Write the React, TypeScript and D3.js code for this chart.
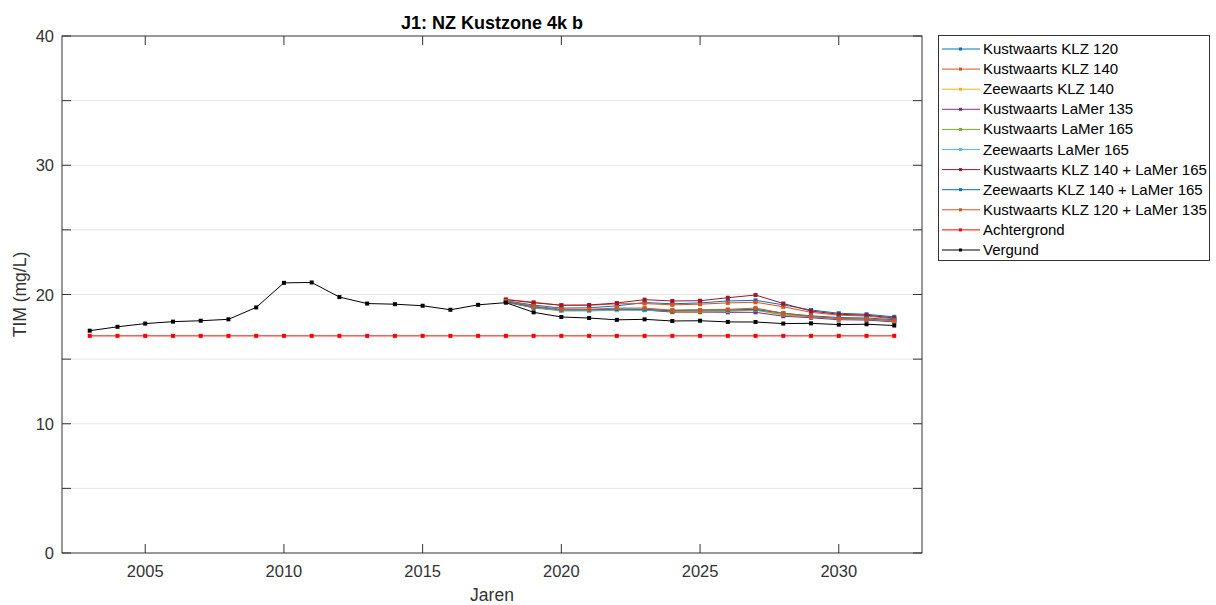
import React, { useEffect, useRef } from 'react';
import { select, scaleLinear, line, range } from 'd3';

const years = range(2003, 2033);
const scenarioYears = range(2018, 2033);

const vergund = [17.2, 17.5, 17.75, 17.9, 17.97, 18.08, 19.0, 20.9, 20.93, 19.8, 19.3, 19.25, 19.13, 18.82, 19.2,
  19.37, 18.62, 18.26, 18.18, 18.04, 18.08, 17.95, 17.97, 17.88, 17.87, 17.75, 17.77, 17.67, 17.7, 17.6];
const achtergrond = years.map(() => 16.8);

const kustKlz120 = [19.52, 19.18, 18.95, 18.97, 19.12, 19.38, 19.28, 19.35, 19.5, 19.55, 19.2, 18.8, 18.55, 18.47, 18.27];
const kustKlz140 = [19.62, 19.4, 19.17, 19.16, 19.28, 19.3, 19.2, 19.25, 19.35, 19.4, 19.05, 18.62, 18.4, 18.33, 18.12];
const zeeKlz140 = [19.42, 18.95, 18.72, 18.72, 18.78, 18.82, 18.62, 18.62, 18.7, 18.78, 18.4, 18.25, 18.1, 18.05, 17.92];
const kustLaMer135 = [19.4, 18.98, 18.78, 18.78, 18.82, 18.8, 18.65, 18.65, 18.62, 18.62, 18.32, 18.2, 18.05, 18.02, 17.88];
const kustLaMer165 = [19.43, 19.0, 18.78, 18.8, 18.85, 18.85, 18.7, 18.72, 18.72, 18.8, 18.45, 18.28, 18.12, 18.08, 17.95];
const zeeLaMer165 = [19.45, 19.02, 18.75, 18.75, 18.8, 18.78, 18.8, 18.8, 18.78, 18.85, 18.55, 18.3, 18.15, 18.1, 17.98];
const kustKlz140LaMer165 = [19.6, 19.36, 19.17, 19.19, 19.34, 19.6, 19.5, 19.52, 19.75, 19.96, 19.3, 18.72, 18.47, 18.4, 18.18];
const zeeKlz140LaMer165 = [19.45, 19.05, 18.82, 18.82, 18.88, 18.85, 18.75, 18.8, 18.8, 18.85, 18.55, 18.35, 18.22, 18.18, 18.05];
const kustKlz120LaMer135 = [19.5, 19.1, 18.85, 18.85, 18.95, 18.95, 18.78, 18.8, 18.85, 18.95, 18.55, 18.3, 18.15, 18.1, 17.98];

const seriesNames = [
  'Kustwaarts KLZ 120', 'Kustwaarts KLZ 140', 'Zeewaarts KLZ 140', 'Kustwaarts LaMer 135',
  'Kustwaarts LaMer 165', 'Zeewaarts LaMer 165', 'Kustwaarts KLZ 140 + LaMer 165',
  'Zeewaarts KLZ 140 + LaMer 165', 'Kustwaarts KLZ 120 + LaMer 135', 'Achtergrond', 'Vergund',
];
const seriesValues = [
  kustKlz120, kustKlz140, zeeKlz140, kustLaMer135, kustLaMer165, zeeLaMer165,
  kustKlz140LaMer165, zeeKlz140LaMer165, kustKlz120LaMer135, achtergrond, vergund,
];
const seriesYears = [
  scenarioYears, scenarioYears, scenarioYears, scenarioYears, scenarioYears, scenarioYears,
  scenarioYears, scenarioYears, scenarioYears, years, years,
];
const colors = ['#0072BD', '#D95319', '#EDB120', '#7E2F8E', '#77AC30', '#4DBEEE', '#A2142F', '#0072BD', '#D95319', '#FF0000', '#000000'];

const xTicks = [2005, 2010, 2015, 2020, 2025, 2030];
const yTicks = [0, 5, 10, 15, 20, 25, 30, 35, 40];
const yLabels = [0, 10, 20, 30, 40];

const W = 1216;
const H = 605;
const left = 62, right = 922, top = 36, bottom = 553;
const font = 'Arial, "Liberation Sans", Helvetica, sans-serif';
const axisColor = '#333333';

const App: React.FC = () => {
  const svgRef = useRef<SVGSVGElement | null>(null);

  useEffect(() => {
    const svg = select(svgRef.current);
    svg.selectAll('*').remove();

    const x = scaleLinear().domain([2002, 2033]).range([left, right]);
    const y = scaleLinear().domain([0, 40]).range([bottom, top]);

    svg.append('rect').attr('width', W).attr('height', H).attr('fill', '#fff');

    // grid
    svg.append('g')
      .selectAll('line')
      .data(yTicks.filter(t => t > 0 && t < 40))
      .enter()
      .append('line')
      .attr('x1', left).attr('x2', right)
      .attr('y1', d => y(d)).attr('y2', d => y(d))
      .attr('stroke', '#e6e6e6')
      .attr('stroke-width', 1);

    // series
    const lines = svg.append('g');
    seriesValues.forEach((vals, i) => {
      const pts = vals.map((v, j) => [seriesYears[i][j], v] as [number, number]);
      const gen = line<[number, number]>().x(d => x(d[0])).y(d => y(d[1]));
      lines.append('path')
        .attr('d', gen(pts))
        .attr('fill', 'none')
        .attr('stroke', colors[i])
        .attr('stroke-width', 1);
      lines.append('g')
        .selectAll('rect')
        .data(pts)
        .enter()
        .append('rect')
        .attr('x', d => x(d[0]) - 2)
        .attr('y', d => y(d[1]) - 2)
        .attr('width', 4)
        .attr('height', 4)
        .attr('fill', colors[i]);
    });

    // box
    svg.append('rect')
      .attr('x', left).attr('y', top)
      .attr('width', right - left).attr('height', bottom - top)
      .attr('fill', 'none')
      .attr('stroke', axisColor)
      .attr('stroke-width', 1);

    const ticks = svg.append('g').attr('stroke', axisColor).attr('stroke-width', 1);
    xTicks.forEach(t => {
      ticks.append('line').attr('x1', x(t)).attr('x2', x(t)).attr('y1', bottom).attr('y2', bottom - 9);
      ticks.append('line').attr('x1', x(t)).attr('x2', x(t)).attr('y1', top).attr('y2', top + 9);
    });
    yTicks.forEach(t => {
      ticks.append('line').attr('x1', left).attr('x2', left + 9).attr('y1', y(t)).attr('y2', y(t));
      ticks.append('line').attr('x1', right).attr('x2', right - 9).attr('y1', y(t)).attr('y2', y(t));
    });

    svg.append('g')
      .selectAll('text')
      .data(xTicks)
      .enter()
      .append('text')
      .attr('x', d => x(d))
      .attr('y', 577)
      .attr('text-anchor', 'middle')
      .attr('font-family', font)
      .attr('font-size', 16.5)
      .attr('fill', axisColor)
      .text(d => d);

    svg.append('g')
      .selectAll('text')
      .data(yLabels)
      .enter()
      .append('text')
      .attr('x', 54)
      .attr('y', d => y(d) + 6)
      .attr('text-anchor', 'end')
      .attr('font-family', font)
      .attr('font-size', 16.5)
      .attr('fill', axisColor)
      .text(d => d);

    svg.append('text')
      .attr('x', (left + right) / 2)
      .attr('y', 601)
      .attr('text-anchor', 'middle')
      .attr('font-family', font)
      .attr('font-size', 17.5)
      .attr('fill', axisColor)
      .text('Jaren');

    svg.append('text')
      .attr('transform', `translate(26,${(top + bottom) / 2}) rotate(-90)`)
      .attr('text-anchor', 'middle')
      .attr('font-family', font)
      .attr('font-size', 17.5)
      .attr('fill', axisColor)
      .text('TIM (mg/L)');

    svg.append('text')
      .attr('x', (left + right) / 2)
      .attr('y', 29)
      .attr('text-anchor', 'middle')
      .attr('font-family', font)
      .attr('font-size', 18)
      .attr('font-weight', 'bold')
      .attr('fill', '#000')
      .text('J1: NZ Kustzone 4k b');

    // legend
    const lg = svg.append('g');
    lg.append('rect')
      .attr('x', 938.5).attr('y', 35.5)
      .attr('width', 271).attr('height', 225)
      .attr('fill', '#fff')
      .attr('stroke', axisColor)
      .attr('stroke-width', 1);
    seriesNames.forEach((name, i) => {
      const ly = 49 + i * 20.1;
      lg.append('line')
        .attr('x1', 942).attr('x2', 980)
        .attr('y1', ly).attr('y2', ly)
        .attr('stroke', colors[i]).attr('stroke-width', 1);
      lg.append('rect')
        .attr('x', 959).attr('y', ly - 1.5)
        .attr('width', 3).attr('height', 3)
        .attr('fill', colors[i]);
      lg.append('text')
        .attr('x', 983)
        .attr('y', ly + 5)
        .attr('font-family', font)
        .attr('font-size', 15)
        .attr('fill', '#000')
        .text(name);
    });
  }, []);

  return (
    <div style={{ position: 'absolute', left: 0, top: 0 }}>
      <svg ref={svgRef} width={W} height={H} style={{ display: 'block' }} />
    </div>
  );
};

export default App;
